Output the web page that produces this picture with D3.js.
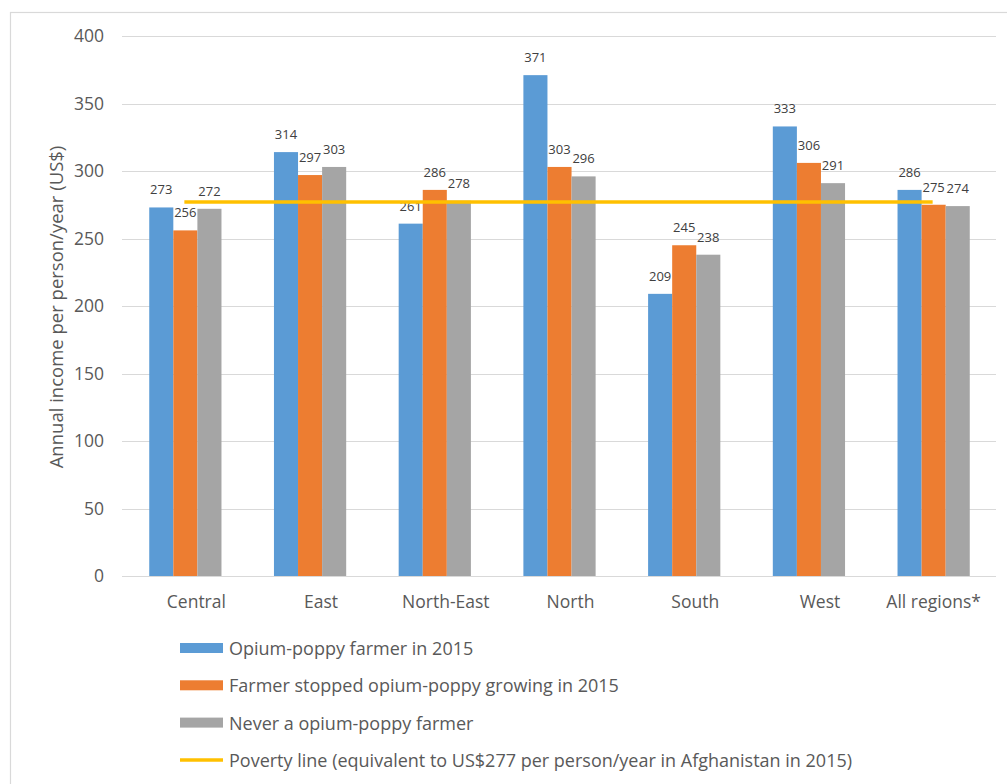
<!DOCTYPE html>
<html>
<head>
<meta charset="utf-8">
<script src="https://cdn.jsdelivr.net/npm/d3@7"></script>
<style>
  html, body { margin: 0; padding: 0; background: #fff; }
  svg { display: block; }
  text { font-family: "Open Sans", "DejaVu Sans", sans-serif; }
</style>
</head>
<body>
<svg id="chart" width="1007" height="784"></svg>
<script>
const categories = ["Central", "East", "North-East", "North", "South", "West", "All regions*"];
const seriesNames = [
  "Opium-poppy farmer in 2015",
  "Farmer stopped opium-poppy growing in 2015",
  "Never a opium-poppy farmer"
];
const opiumFarmer = [273, 314, 261, 371, 209, 333, 286];
const stoppedFarmer = [256, 297, 286, 303, 245, 306, 275];
const neverFarmer = [272, 303, 278, 296, 238, 291, 274];
const povertyLine = [277, 277, 277, 277, 277, 277, 277];
const povertyLabel = "Poverty line (equivalent to US$277 per person/year in Afghanistan in 2015)";
const yTicks = [0, 50, 100, 150, 200, 250, 300, 350, 400];
const yTitle = "Annual income per person/year (US$)";
const colors = ["#5B9BD5", "#ED7D31", "#A5A5A5"];
const lineColor = "#FFC000";

const seriesValues = [opiumFarmer, stoppedFarmer, neverFarmer];

const svg = d3.select("#chart");

// chart frame
svg.append("rect")
  .attr("x", 10.5).attr("y", 12.5)
  .attr("width", 1010).attr("height", 800)
  .attr("fill", "none").attr("stroke", "#d9d9d9").attr("stroke-width", 1.2);

const plot = { left: 122, right: 995, top: 36, bottom: 576 };

const y = d3.scaleLinear().domain([0, 400]).range([plot.bottom, plot.top]);
const x0 = d3.scaleBand().domain(categories).range([plot.left, plot.right]).padding(0);
const bw = x0.bandwidth();
const x1 = d3.scaleBand().domain(d3.range(seriesNames.length)).range([0, bw])
  .paddingInner(0).paddingOuter(1.09);

// gridlines
svg.append("g").selectAll("line").data(yTicks.filter(t => t > 0)).join("line")
  .attr("x1", plot.left).attr("x2", plot.right + 1)
  .attr("y1", d => Math.round(y(d)) + 0.5).attr("y2", d => Math.round(y(d)) + 0.5)
  .attr("stroke", "#d9d9d9").attr("stroke-width", 1);

// y axis
const yAxis = d3.axisLeft(y).tickValues(yTicks).tickSize(0).tickPadding(0);
const yg = svg.append("g").attr("transform", `translate(${plot.left - 18},0)`).call(yAxis);
yg.select(".domain").remove();
yg.selectAll("text")
  .attr("fill", "#595959").style("font-size", "17.5px")
  .style("font-family", "'Open Sans', sans-serif");

// y title
svg.append("text")
  .attr("transform", `translate(55,307) rotate(-90)`)
  .attr("text-anchor", "middle").attr("dominant-baseline", "central")
  .attr("fill", "#595959").style("font-size", "18.5px")
  .text(yTitle);

// bars
const groups = svg.append("g").selectAll("g").data(categories).join("g")
  .attr("transform", d => `translate(${x0(d) + 1},0)`);

groups.selectAll("rect")
  .data((c, i) => seriesValues.map((s, k) => ({ k, v: s[i] })))
  .join("rect")
  .attr("x", d => x1(d.k))
  .attr("width", x1.bandwidth())
  .attr("y", d => y(d.v))
  .attr("height", d => y(0) - y(d.v))
  .attr("fill", d => colors[d.k]);

// baseline
svg.append("line")
  .attr("x1", plot.left).attr("x2", plot.right + 1)
  .attr("y1", plot.bottom + 0.5).attr("y2", plot.bottom + 0.5)
  .attr("stroke", "#d9d9d9").attr("stroke-width", 1);

// poverty line
const line = d3.line()
  .x((d, i) => x0(categories[i]) + bw / 2)
  .y(d => y(d));
svg.append("path").datum(povertyLine)
  .attr("d", line)
  .attr("fill", "none").attr("stroke", lineColor).attr("stroke-width", 3.5);

// data labels
groups.selectAll("text.lbl")
  .data((c, i) => seriesValues.map((s, k) => ({ k, v: s[i] })))
  .join("text").attr("class", "lbl")
  .attr("x", d => x1(d.k) + x1.bandwidth() / 2)
  .attr("y", d => y(d.v) - 18)
  .attr("text-anchor", "middle").attr("dominant-baseline", "central")
  .attr("fill", "#404040").style("font-size", "13px")
  .text(d => d.v);

// x labels
const xAxis = d3.axisBottom(x0).tickSize(0).tickPadding(0);
const xg = svg.append("g").attr("transform", `translate(1,${plot.bottom + 20})`).call(xAxis);
xg.select(".domain").remove();
xg.selectAll("text")
  .attr("fill", "#595959").style("font-size", "17.5px")
  .style("font-family", "'Open Sans', sans-serif")
  .attr("dy", "0.71em")
  .attr("dx", (d, i) => i < categories.length - 1 ? 11 : 0);

// legend
const legendItems = seriesNames.map((n, k) => ({ name: n, color: colors[k], type: "rect" }))
  .concat([{ name: povertyLabel, color: lineColor, type: "line" }]);
const lg = svg.append("g").selectAll("g").data(legendItems).join("g")
  .attr("transform", (d, i) => `translate(180,${648 + i * 37.3})`);
lg.filter(d => d.type === "rect").append("rect")
  .attr("x", 0).attr("y", -5).attr("width", 43).attr("height", 10)
  .attr("fill", d => d.color);
lg.filter(d => d.type === "line").append("line")
  .attr("x1", 0).attr("x2", 43).attr("y1", 0).attr("y2", 0)
  .attr("stroke", d => d.color).attr("stroke-width", 3.5);
lg.append("text")
  .attr("x", 49).attr("y", 0).attr("dominant-baseline", "central")
  .attr("fill", "#595959").style("font-size", "18px")
  .text(d => d.name)
  .each(function(d) {
    const target = d.type === "line" ? 624 : null;
    if (target) {
      const len = this.getComputedTextLength();
      if (Math.abs(len - target) > 4) d3.select(this).attr("textLength", target).attr("lengthAdjust", "spacingAndGlyphs");
    }
  });
</script>
</body>
</html>
